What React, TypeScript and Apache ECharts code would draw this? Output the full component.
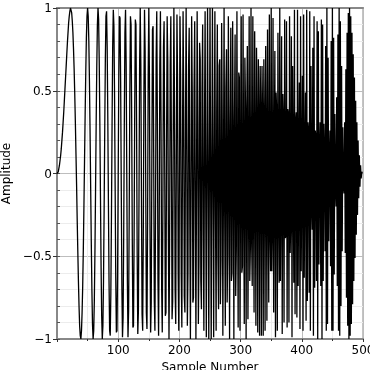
import React, { useEffect, useRef } from "react";
import * as echarts from "echarts";

// Amplitude of each sample, sample number = index (0..500)
const amplitude: number[] = [
  0, 0.0, 0.01, 0.03, 0.05, 0.08, 0.11, 0.15, 0.2, 0.25,
  0.31, 0.37, 0.44, 0.51, 0.58, 0.65, 0.72, 0.79, 0.85, 0.91,
  0.95, 0.98, 1.0, 1.0, 0.97, 0.92, 0.85, 0.75, 0.63, 0.48,
  0.31, 0.12, -0.07, -0.28, -0.47, -0.65, -0.8, -0.92, -0.98, -1.0,
  -0.95, -0.84, -0.68, -0.46, -0.2, 0.08, 0.36, 0.61, 0.82, 0.95,
  1.0, 0.95, 0.8, 0.56, 0.26, -0.08, -0.41, -0.7, -0.91, -1.0,
  -0.95, -0.77, -0.47, -0.1, 0.3, 0.65, 0.9, 1.0, 0.93, 0.68,
  0.31, -0.13, -0.55, -0.86, -1.0, -0.92, -0.65, -0.22, 0.26, 0.69,
  0.95, 0.98, 0.76, 0.34, -0.17, -0.65, -0.95, -0.98, -0.72, -0.25,
  0.31, 0.77, 0.99, 0.89, 0.49, -0.08, -0.63, -0.96, -0.95, -0.59,
  0.0, 0.59, 0.95, 0.94, 0.55, -0.08, -0.68, -0.99, -0.87, -0.37,
  0.31, 0.85, 0.99, 0.66, 0.01, -0.65, -0.99, -0.83, -0.24, 0.48,
  0.95, 0.9, 0.36, -0.39, -0.93, -0.92, -0.38, 0.39, 0.93, 0.9,
  0.31, -0.48, -0.97, -0.83, -0.14, 0.65, 1.0, 0.66, -0.14, -0.85,
  -0.95, -0.37, 0.49, 0.99, 0.74, -0.08, -0.84, -0.94, -0.3, 0.59,
  1.0, 0.59, -0.32, -0.96, -0.78, 0.08, 0.87, 0.89, 0.11, -0.77,
  -0.95, -0.25, 0.69, 0.98, 0.32, -0.65, -0.98, -0.34, 0.65, 0.98,
  0.31, -0.69, -0.96, -0.22, 0.76, 0.92, 0.07, -0.86, -0.84, 0.13,
  0.95, 0.68, -0.38, -1.0, -0.44, 0.65, 0.95, 0.1, -0.88, -0.77,
  0.31, 1.0, 0.41, -0.7, -0.91, 0.08, 0.96, 0.56, -0.6, -0.95,
  0.0, 0.95, 0.58, -0.61, -0.93, 0.08, 0.98, 0.46, -0.74, -0.84,
  0.31, 1.0, 0.17, -0.92, -0.6, 0.65, 0.88, -0.28, -1.0, -0.12,
  0.95, 0.48, -0.78, -0.75, 0.52, 0.92, -0.24, -1.0, -0.05, 0.98,
  0.31, -0.91, -0.52, 0.79, 0.69, -0.65, -0.82, 0.51, 0.9, -0.37,
  -0.95, 0.25, 0.98, -0.15, -0.99, 0.08, 1.0, -0.03, -1.0, 0.0,
  1.0, 0.0, -1.0, 0.03, 1.0, -0.08, -0.99, 0.15, 0.98, -0.25,
  -0.95, 0.37, 0.9, -0.51, -0.82, 0.65, 0.69, -0.79, -0.52, 0.91,
  0.31, -0.98, -0.05, 1.0, -0.24, -0.92, 0.52, 0.75, -0.78, -0.48,
  0.95, 0.12, -1.0, 0.28, 0.88, -0.65, -0.6, 0.92, 0.17, -1.0,
  0.31, 0.84, -0.74, -0.46, 0.98, -0.08, -0.93, 0.61, 0.58, -0.95,
  0.0, 0.95, -0.6, -0.56, 0.96, -0.08, -0.91, 0.7, 0.41, -1.0,
  0.31, 0.77, -0.88, -0.1, 0.95, -0.65, -0.44, 1.0, -0.38, -0.68,
  0.95, -0.13, -0.84, 0.86, 0.07, -0.92, 0.76, 0.22, -0.96, 0.69,
  0.31, -0.98, 0.65, 0.34, -0.98, 0.65, 0.32, -0.98, 0.69, 0.25,
  -0.95, 0.77, 0.11, -0.89, 0.87, -0.08, -0.78, 0.96, -0.32, -0.59,
  1.0, -0.59, -0.3, 0.94, -0.84, 0.08, 0.74, -0.99, 0.49, 0.37,
  -0.95, 0.85, -0.14, -0.66, 1.0, -0.65, -0.14, 0.83, -0.97, 0.48,
  0.31, -0.9, 0.93, -0.39, -0.38, 0.92, -0.93, 0.39, 0.36, -0.9,
  0.95, -0.48, -0.24, 0.83, -0.99, 0.65, 0.01, -0.66, 0.99, -0.85,
  0.31, 0.37, -0.87, 0.99, -0.68, 0.08, 0.55, -0.94, 0.95, -0.59,
  0.0, 0.59, -0.95, 0.96, -0.63, 0.08, 0.49, -0.89, 0.99, -0.77,
  0.31, 0.25, -0.72, 0.98, -0.95, 0.65, -0.17, -0.34, 0.76, -0.98,
  0.95, -0.69, 0.26, 0.22, -0.65, 0.92, -1.0, 0.86, -0.55, 0.13,
  0.31, -0.68, 0.93, -1.0, 0.9, -0.65, 0.3, 0.1, -0.47, 0.77,
  -0.95, 1.0, -0.91, 0.7, -0.41, 0.08, 0.26, -0.56, 0.8, -0.95,
  1.0, -0.95, 0.82, -0.61, 0.36, -0.08, -0.2, 0.46, -0.68, 0.84,
  -0.95, 1.0, -0.98, 0.92, -0.8, 0.65, -0.47, 0.28, -0.07, -0.12,
  0.31, -0.48, 0.63, -0.75, 0.85, -0.92, 0.97, -1.0, 1.0, -0.98,
  0.95, -0.91, 0.85, -0.79, 0.72, -0.65, 0.58, -0.51, 0.44, -0.37,
  0.31, -0.25, 0.2, -0.15, 0.11, -0.08, 0.05, -0.03, 0.01, 0.0,
  0.0,
];

const X_MIN = 0;
const X_MAX = 500;
const X_STEP = 100;
const Y_MIN = -1;
const Y_MAX = 1;
const Y_STEP = 0.5;
const X_NAME = "Sample Number";
const Y_NAME = "Amplitude";

const FONT = "DejaVu Sans";

export default function App() {
  const ref = useRef<HTMLDivElement>(null);

  useEffect(() => {
    if (!ref.current) return;
    const chart = echarts.init(ref.current, null, { renderer: "svg" });
    const data = amplitude.map((v, i) => [i, v]);
    const option: any = {
      animation: false,
      grid: {
        left: 57,
        right: 7,
        top: 8,
        bottom: 31,
        containLabel: false,
        outerBoundsMode: "none",
        show: true,
        borderColor: "#c4c4c4",
        borderWidth: 2,
        backgroundColor: "transparent",
      },
      xAxis: [
        {
          type: "value",
          min: X_MIN,
          max: X_MAX,
          interval: X_STEP,
          name: X_NAME,
          nameLocation: "middle",
          nameGap: 19,
          nameTextStyle: { fontSize: 12, color: "#000", fontFamily: FONT },
          axisLine: { show: true, onZero: false, lineStyle: { color: "#888", width: 2 } },
          axisTick: { show: true, length: 3, lineStyle: { color: "#333" } },
          minorTick: { show: true, splitNumber: 2, length: 2, lineStyle: { color: "#333" } },
          axisLabel: {
            fontSize: 12,
            color: "#000",
            margin: 5,
            fontFamily: FONT,
            showMinLabel: false,
            formatter: (v: number) => (v === 0 ? "" : String(v)),
          },
          splitLine: { show: true, lineStyle: { color: "#bdbdbd", width: 1 } },
          minorSplitLine: { show: true, lineStyle: { color: "#ececec", width: 1 } },
        },
        {
          type: "value",
          position: "top",
          min: X_MIN,
          max: X_MAX,
          axisLine: { show: true, onZero: false, lineStyle: { color: "#888", width: 2 } },
          axisTick: { show: false },
          axisLabel: { show: false },
          splitLine: { show: false },
        },
      ],
      yAxis: [
        {
          type: "value",
          min: Y_MIN,
          max: Y_MAX,
          interval: Y_STEP,
          name: Y_NAME,
          nameLocation: "middle",
          nameGap: 41,
          nameRotate: 90,
          nameTextStyle: { fontSize: 12, color: "#000", fontFamily: FONT },
          axisLine: { show: true, onZero: false, lineStyle: { color: "#888", width: 2 } },
          axisTick: { show: true, length: 4, lineStyle: { color: "#333" } },
          minorTick: { show: false, splitNumber: 5 },
          axisLabel: {
            fontSize: 12,
            color: "#000",
            margin: 5,
            fontFamily: FONT,
            formatter: (v: number) => (v < 0 ? "\u2212" + String(-v) : String(v)),
          },
          splitLine: { show: true, lineStyle: { color: "#bdbdbd", width: 1 } },
          minorSplitLine: { show: true, lineStyle: { color: "#ececec", width: 1 } },
        },
        {
          type: "value",
          position: "left",
          min: -10,
          max: 10,
          interval: 1,
          axisLine: { show: false },
          axisTick: { show: true, inside: true, length: 3, lineStyle: { color: "#555" } },
          axisLabel: { show: false },
          splitLine: { show: false },
        },
      ],
      series: [
        {
          type: "line",
          xAxisIndex: 0,
          yAxisIndex: 0,
          data,
          showSymbol: false,
          symbol: "none",
          silent: true,
          lineStyle: { color: "#000", width: 1.3 },
        },
      ],
    };
    chart.setOption(option);
    return () => chart.dispose();
  }, []);

  return (
    <div
      ref={ref}
      style={{ position: "fixed", left: 0, top: 0, width: 370, height: 370 }}
    />
  );
}
